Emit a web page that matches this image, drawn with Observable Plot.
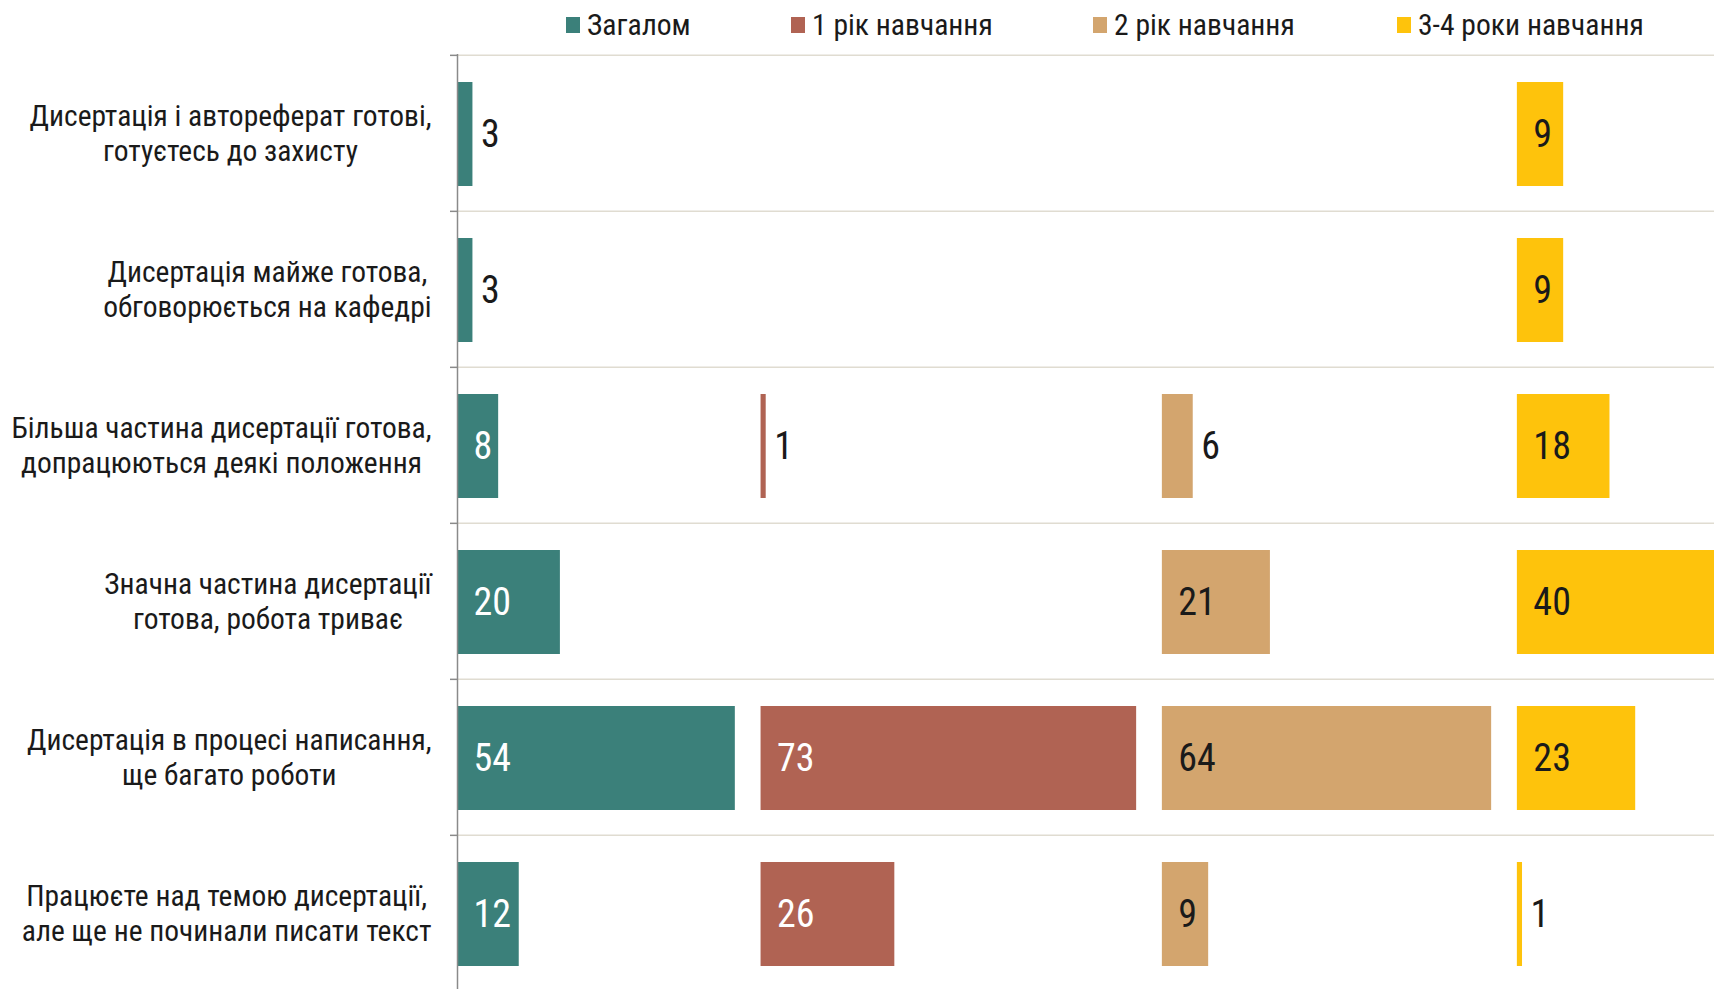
<!DOCTYPE html>
<html><head><meta charset="utf-8">
<script src="https://cdn.jsdelivr.net/npm/d3@7"></script>
<script src="https://cdn.jsdelivr.net/npm/@observablehq/plot@0.6"></script>
<style>
html,body{margin:0;padding:0;background:#fff;overflow:hidden;}
#legend{position:relative;height:50px;width:1714px;}
.item{position:absolute;top:0;height:50px;display:flex;align-items:center;font-size:29.6px;color:#1a1a1a;white-space:nowrap;}
.sw{width:14px;height:16px;margin-right:7px;flex:none;}
#chart svg{display:block;}
</style></head><body>
<div id="legend"></div><div id="chart"></div>
<script>
// ---- data ----
const categories = [
  "Дисертація і автореферат готові,\nготуєтесь до захисту",
  "Дисертація майже готова,\nобговорюється на кафедрі",
  "Більша частина дисертації готова,\nдопрацюються деякі положення",
  "Значна частина дисертації\nготова, робота триває",
  "Дисертація в процесі написання,\nще багато роботи",
  "Працюєте над темою дисертації,\nале ще не починали писати текст"
];
const series = ["Загалом", "1 рік навчання", "2 рік навчання", "3-4 роки навчання"];
const valuesTotal  = [3, 3, 8, 20, 54, 12];
const valuesYear1  = [null, null, 1, null, 73, 26];
const valuesYear2  = [null, null, 6, 21, 64, 9];
const valuesYear34 = [9, 9, 18, 40, 23, 1];

// ---- styles / layout ----
const colors = ["#3b807a", "#b06353", "#d3a56e", "#fec30c"];
const lightText = [true, true, false, false];
const legendLeft = [566, 791, 1093, 1397];
const W = 1714, H = 939;
const axisPx = 457, unitPx = 5.145, rowH = 156.3, topPx = 4;
const labelRight = 431;
const gapUnits = 5;
const insideMin = 7;

function hasFont(name) {
  const ctx = document.createElement("canvas").getContext("2d");
  const s = "Дисертація mmmWWiil 0123";
  return ["monospace", "serif"].some(base => {
    ctx.font = `72px ${base}`; const a = ctx.measureText(s).width;
    ctx.font = `72px "${name}", ${base}`; const b = ctx.measureText(s).width;
    return Math.abs(a - b) > 0.5;
  });
}
const candidates = ["Roboto Condensed", "Liberation Sans Narrow", "Arial Narrow", "DejaVu Sans Condensed", "Roboto"];
const fontName = candidates.find(hasFont) || "sans-serif";
const FONT = `"${fontName}", sans-serif`;
document.body.style.fontFamily = FONT;

// ---- legend ----
const legend = document.getElementById("legend");
series.forEach((s, i) => {
  const it = document.createElement("div");
  it.className = "item"; it.style.left = legendLeft[i] + "px";
  const sw = document.createElement("span"); sw.className = "sw"; sw.style.background = colors[i];
  const tx = document.createElement("span"); tx.textContent = s;
  it.append(sw, tx); legend.append(it);
});

// ---- table ----
const seriesValues = [valuesTotal, valuesYear1, valuesYear2, valuesYear34];
const offsets = []; let acc = 0;
seriesValues.forEach(vals => { offsets.push(acc); acc += d3.max(vals) + gapUnits; });
const rows = [];
seriesValues.forEach((vals, si) => vals.forEach((v, ci) => {
  if (v == null) return;
  rows.push({series: series[si], si, category: categories[ci], value: v,
             x1: offsets[si], x2: offsets[si] + v, inside: v >= insideMin});
}));

// label block centers (centered lines, block right-aligned)
const labelSize = 29.5;
const mctx = document.createElement("canvas").getContext("2d");
mctx.font = `${labelSize}px ${FONT}`;
const labels = categories.map(c => {
  const w = d3.max(c.split("\n"), l => mctx.measureText(l).width);
  return {category: c, cx: (labelRight - w / 2 - axisPx) / unitPx};
});

const valueText = {y: "category", text: d => String(d.value), textAnchor: "start", fontSize: 38, dy: 1.5};

const chart = Plot.plot({
  width: W, height: H,
  marginLeft: axisPx, marginRight: 0, marginTop: topPx, marginBottom: 0,
  x: {domain: [0, (W - axisPx) / unitPx], range: [axisPx, W], axis: null},
  y: {domain: categories, range: [topPx, topPx + rowH * categories.length], padding: 0, axis: null},
  color: {domain: series, range: colors},
  style: {fontFamily: FONT, background: "#fff", color: "#1a1a1a", overflow: "hidden"},
  marks: [
    Plot.ruleY(categories, {y: d => d, dy: -rowH / 2, stroke: "#e0dcd1", strokeWidth: 1.5}),
    Plot.ruleY(categories, {y: d => d, dy: -rowH / 2, x1: -7 / unitPx, x2: 0, stroke: "#8a8a8a", strokeWidth: 1.5}),
    Plot.barX(rows, {x1: "x1", x2: "x2", y: "category", fill: "series", insetTop: 27, insetBottom: 25, clip: true}),
    Plot.ruleX([0], {stroke: "#8a8a8a", strokeWidth: 1.5}),
    Plot.text(labels, {x: "cx", y: "category", text: "category", textAnchor: "middle", fontSize: labelSize, lineHeight: 1.17, fill: "#1a1a1a", dy: -1}),
    Plot.text(rows.filter(d => d.inside && lightText[d.si]), {...valueText, x: "x1", dx: 16, fill: "#fff"}),
    Plot.text(rows.filter(d => d.inside && !lightText[d.si]), {...valueText, x: "x1", dx: 16, fill: "#1a1a1a"}),
    Plot.text(rows.filter(d => !d.inside), {...valueText, x: "x2", dx: 8, fill: "#1a1a1a"})
  ]
});
document.getElementById("chart").append(chart);
</script>
</body></html>
